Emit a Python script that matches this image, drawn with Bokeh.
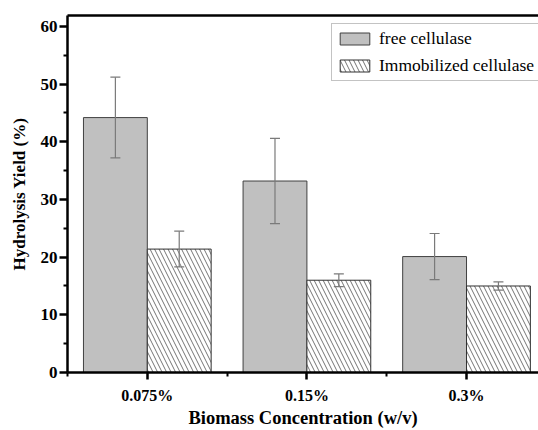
from bokeh.plotting import figure
from bokeh.models import (ColumnDataSource, FixedTicker, LinearAxis, Whisker, TeeHead,
                          Legend, LegendItem, Range1d)
from bokeh.embed import file_html
from bokeh.resources import INLINE

categories = ["0.075%", "0.15%", "0.3%"]
free_vals = [44.2, 33.2, 20.1]
free_err = [7.0, 7.4, 4.0]
immo_vals = [21.4, 16.0, 15.0]
immo_err = [3.1, 1.1, 0.7]
y_ticks = [0, 10, 20, 30, 40, 50, 60]
y_minor = [5, 15, 25, 35, 45, 55]

FONT = "Liberation Serif"
idx = list(range(len(categories)))
bar_w = 0.4

src_free = ColumnDataSource(dict(
    x=[i - bar_w / 2 for i in idx], top=free_vals,
    upper=[v + e for v, e in zip(free_vals, free_err)],
    lower=[v - e for v, e in zip(free_vals, free_err)]))
src_immo = ColumnDataSource(dict(
    x=[i + bar_w / 2 for i in idx], top=immo_vals,
    upper=[v + e for v, e in zip(immo_vals, immo_err)],
    lower=[v - e for v, e in zip(immo_vals, immo_err)]))

p = figure(width=538, height=430, output_backend="svg", toolbar_location=None,
           x_range=Range1d(-0.5, 2.451), y_range=Range1d(0, 61.9),
           min_border_left=67, min_border_right=0, min_border_top=15, min_border_bottom=58)
p.outline_line_color = None
p.grid.visible = False
p.background_fill_color = "white"

r_free = p.vbar(x="x", top="top", width=bar_w, bottom=0, source=src_free,
                fill_color="#c0c0c0", line_color="#404040", line_width=1)
r_immo = p.vbar(x="x", top="top", width=bar_w, bottom=0, source=src_immo,
                fill_color="white", line_color="#303030", line_width=1,
                hatch_pattern="\\", hatch_color="#505050", hatch_weight=0.8, hatch_scale=9)

for src in (src_free, src_immo):
    w = Whisker(base="x", upper="upper", lower="lower", source=src,
                line_color="#7a7a7a", line_width=1.2, level="annotation",
                upper_head=TeeHead(size=10, line_color="#7a7a7a", line_width=1.2),
                lower_head=TeeHead(size=10, line_color="#7a7a7a", line_width=1.2))
    p.add_layout(w)

# x axis
xa = p.xaxis[0]
xa.ticker = FixedTicker(ticks=idx, minor_ticks=[-0.5, 0.5, 1.5, 2.5])
xa.major_label_overrides = {i: c for i, c in zip(idx, categories)}
xa.axis_label = "Biomass Concentration (w/v)"

ya = p.yaxis[0]
ya.ticker = FixedTicker(ticks=y_ticks, minor_ticks=y_minor)
ya.axis_label = "Hydrolysis Yield (%)"

for ax in (xa, ya):
    ax.axis_line_width = 2.5
    ax.axis_line_color = "black"
    ax.major_tick_line_width = 2.5
    ax.minor_tick_line_width = 2
    ax.major_tick_in = 0
    ax.minor_tick_in = 0
    ax.major_tick_out = 8
    ax.minor_tick_out = 4
    ax.major_label_text_font = FONT
    ax.major_label_text_font_style = "bold"
    ax.major_label_text_color = "black"
    ax.axis_label_text_font = FONT
    ax.axis_label_text_font_style = "bold"
    ax.axis_label_text_color = "black"

xa.major_tick_out = 7
xa.major_label_text_font_size = "16px"
xa.major_label_standoff = 7
xa.axis_label_text_font_size = "18.5px"
xa.axis_label_standoff = 1
ya.major_label_text_font_size = "17px"
ya.major_label_standoff = 2
ya.axis_label_text_font_size = "17px"
ya.axis_label_standoff = 9

top_ax = LinearAxis(ticker=FixedTicker(ticks=[]), axis_line_width=2.5,
                    axis_line_color="black", major_label_text_font_size="0px",
                    major_tick_line_color=None, minor_tick_line_color=None)
p.add_layout(top_ax, "above")

legend = Legend(items=[LegendItem(label="free cellulase", renderers=[r_free]),
                       LegendItem(label="Immobilized cellulase", renderers=[r_immo])],
                location=(264, 291), label_text_font=FONT, label_text_font_size="17.5px",
                label_text_color="black", glyph_width=37, glyph_height=15,
                label_height=15, label_standoff=6, spacing=6, padding=4, margin=0,
                border_line_color="#888888", border_line_width=1,
                background_fill_color="white", background_fill_alpha=1)
p.add_layout(legend)

open("out.html", "w").write(file_html(p, INLINE))
